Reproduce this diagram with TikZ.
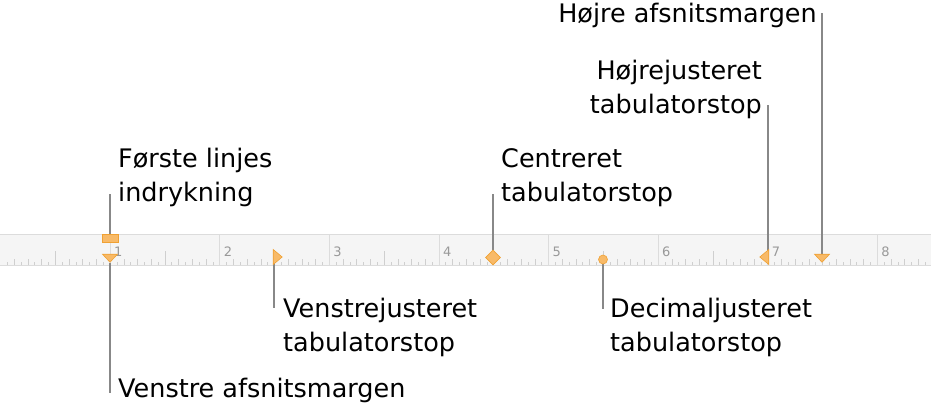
\documentclass[tikz,border=0pt]{standalone}
\usepackage{fontspec}
\setmainfont{DejaVu Sans}
\usetikzlibrary{shapes.geometric}
\definecolor{markfill}{HTML}{F8BA68}
\definecolor{markedge}{HTML}{F0A133}
\definecolor{leadergray}{HTML}{888888}
\definecolor{rulerbg}{HTML}{F5F5F5}
\definecolor{rulerline}{HTML}{DCDCDC}
\definecolor{tickgray}{HTML}{CFCFCF}
\definecolor{digitgray}{HTML}{999999}
\pgfdeclarelayer{rulerlayer}
\pgfdeclarelayer{leaderlayer}
\pgfsetlayers{rulerlayer,leaderlayer,main}

\begin{document}
\begin{tikzpicture}[x=1pt, y=-1pt,
    callout/.style={inner sep=0pt, align=left, font=\fontsize{25.5}{34}\selectfont},
    marker/.style={fill=markfill, draw=markedge, line width=0.6pt, inner sep=0pt},
    tri/.style={marker, isosceles triangle, isosceles triangle stretches},
    downtri/.style={tri, shape border rotate=-90, minimum width=15pt, minimum height=8pt},
    sidetri/.style={tri, minimum width=15pt, minimum height=9pt},
    leader/.style={draw=leadergray, line width=2.8pt},
    digit/.style={text=digitgray, font=\fontsize{13}{13}\selectfont, anchor=west, inner sep=0pt}
  ]
  \useasboundingbox (0,0) rectangle (931,418);

  % ruler band
  \begin{pgfonlayer}{rulerlayer}
    \fill[rulerbg] (0,234) rectangle (931,265);
    \draw[rulerline] (0,234) -- (931,234);
    \draw[rulerline] (0,265) -- (931,265);
    \foreach \n in {1,...,8} {
      \draw[rulerline] ({110+109.6*(\n-1)},234) -- ++(0,31);
      \node[digit] (num\n) at ({114+109.6*(\n-1)},252) {\n};
    }
    \foreach \k in {-15,...,119} {
      \pgfmathtruncatemacro\r{mod(\k+32,16)}
      \pgfmathtruncatemacro\h{\r==8 ? 14 : (mod(\r,2)==0 ? 6 : 3)}
      \ifnum\r>0 \draw[tickgray] ({110+6.85*\k},265) -- ++(0,-\h); \fi
    }
  \end{pgfonlayer}

  % markers
  \node[marker, rectangle, minimum width=16pt, minimum height=8pt] (firstind) at (110,238) {};
  \node[downtri, anchor=apex] (leftmarg) at (110,263) {};
  \node[sidetri, anchor=apex] (lefttab) at (283,257) {};
  \node[marker, diamond, minimum width=15pt, minimum height=15pt] (centertab) at (493,257.5) {};
  \node[marker, circle, minimum size=9pt] (dectab) at (603,259.5) {};
  \node[sidetri, shape border rotate=180, anchor=apex] (righttab) at (759,257) {};
  \node[downtri, anchor=apex] (rightmarg) at (822,263) {};

  % callouts (base = last line)
  \node[callout, anchor=base west] (firstindtxt) at (118,201) {Første linjes\\indrykning};
  \node[callout, anchor=base west] (leftmargtxt) at (118,397) {Venstre afsnitsmargen};
  \node[callout, anchor=base west] (lefttabtxt) at (283,351) {Venstrejusteret\\tabulatorstop};
  \node[callout, anchor=base west] (centertabtxt) at (501,201) {Centreret\\tabulatorstop};
  \node[callout, anchor=base west] (dectabtxt) at (610,351) {Decimaljusteret\\tabulatorstop};
  \node[callout, anchor=base east, align=right] (righttabtxt) at (762,113) {Højrejusteret\\tabulatorstop};
  \node[callout, anchor=base east] (rightmargtxt) at (817,22) {Højre afsnitsmargen};

  % free ends of the leaders
  \coordinate (firstindend) at (110,194);
  \coordinate (leftmargend) at (110,393);
  \coordinate (lefttabend) at (274,308);
  \coordinate (centertabend) at (493,194);
  \coordinate (dectabend) at (603,309);
  \coordinate (righttabend) at (768,105);
  \coordinate (rightmargend) at (822,13);

  % leaders
  \begin{pgfonlayer}{leaderlayer}
    \draw[leader] (firstindend) -- (firstind.north);
    \draw[leader] (leftmarg.apex) -- (leftmargend);
    \draw[leader] (lefttabend |- lefttab.lower side) -- (lefttabend);
    \draw[leader] (centertabend) -- (centertab.north);
    \draw[leader] (dectab.south) -- (dectabend);
    \draw[leader] (righttabend) -- (righttabend |- righttab.lower side);
    \draw[leader] (rightmargend) -- (rightmarg.lower side);
  \end{pgfonlayer}
\end{tikzpicture}
\end{document}
